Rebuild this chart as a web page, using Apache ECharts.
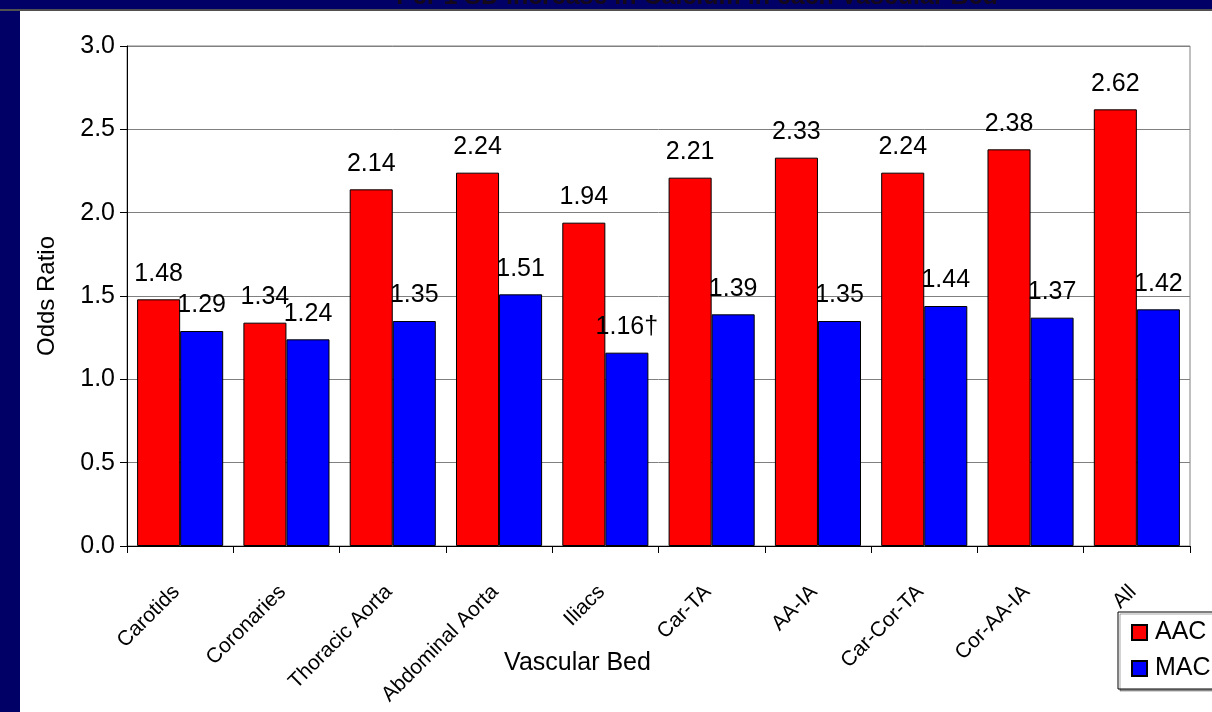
<!DOCTYPE html>
<html>
<head>
<meta charset="utf-8">
<script src="https://cdn.jsdelivr.net/npm/echarts@6/dist/echarts.min.js"></script>
<style>
html,body{margin:0;padding:0;background:#000066;}
#chart{width:1212px;height:712px;}
</style>
</head>
<body>
<div id="chart"></div>
<script>
const titleText = 'Per 1 SD Increase in Calcium in each Vascular Bed';
const categories = ['Carotids','Coronaries','Thoracic Aorta','Abdominal Aorta','Iliacs','Car-TA','AA-IA','Car-Cor-TA','Cor-AA-IA','All'];
const aacValues = [1.48,1.34,2.14,2.24,1.94,2.21,2.33,2.24,2.38,2.62];
const macValues = [1.29,1.24,1.35,1.51,1.16,1.39,1.35,1.44,1.37,1.42];
const macNotes = ['','','','','†','','','','',''];
const seriesNames = ['AAC','MAC'];
const yTicks = [0,0.5,1.0,1.5,2.0,2.5,3.0];

const FONT = '"Liberation Sans", Arial, sans-serif';
const chart = echarts.init(document.getElementById('chart'));

const labelBase = {
  show: true,
  position: 'top',
  distance: 13,
  color: '#000',
  fontFamily: FONT,
  fontSize: 25
};

chart.setOption({
  backgroundColor: '#000066',
  animation: false,
  graphic: [
    {type:'text', z:-20, x:697, y:-15, style:{text: titleText, fill:'#14081a', font:'bold 25px ' + FONT, align:'center', verticalAlign:'top'}},
    {type:'rect', z:-10, shape:{x:20,y:10,width:1192,height:702}, style:{fill:'#ffffff'}},
    {type:'rect', z:-9, shape:{x:0,y:9,width:1212,height:2}, style:{fill:'#505050'}}
  ],
  grid: {left:127, right:22, top:46, bottom:166, show:true, borderColor:'#808080', borderWidth:1, backgroundColor:'transparent'},
  legend: {
    orient:'vertical', left:1118, top:612,
    data: seriesNames,
    itemWidth:15, itemHeight:15, itemGap:11,
    padding:[8,20,8,13],
    borderColor:'#000', borderWidth:1, backgroundColor:'#fff',
    shadowColor:'rgba(0,0,0,0.35)', shadowOffsetX:2, shadowOffsetY:2, shadowBlur:0,
    textStyle:{fontFamily:FONT, fontSize:25, color:'#000', padding:[0,0,0,3]},
    icon:'rect'
  },
  xAxis: {
    type:'category', data: categories,
    name:'Vascular Bed', nameLocation:'middle', nameGap:117, nameMoveOverlap:false,
    nameTextStyle:{fontFamily:FONT, fontSize:25, color:'#000', padding:[0,162,0,0], verticalAlign:'middle'},
    axisLine:{lineStyle:{color:'#000', width:1}},
    axisTick:{show:true, length:7, lineStyle:{color:'#000'}},
    axisLabel:{rotate:45, interval:0, margin:24, align:'right', verticalAlign:'top', padding:[0,16,0,0], fontFamily:FONT, fontSize:21, color:'#000'}
  },
  yAxis: {
    type:'value', min:0, max:3, interval:0.5,
    name:'Odds Ratio', nameLocation:'middle', nameGap:80, nameMoveOverlap:false,
    nameTextStyle:{fontFamily:FONT, fontSize:24, color:'#000', verticalAlign:'middle'},
    axisLine:{show:true, lineStyle:{color:'#000', width:1}},
    axisTick:{show:true, length:7, lineStyle:{color:'#000'}},
    axisLabel:{margin:12, fontFamily:FONT, fontSize:25, color:'#000', formatter: v => yTicks.includes(v) ? v.toFixed(1) : ''},
    splitLine:{show:true, lineStyle:{color:'#808080', width:1}}
  },
  series: [
    {
      name: seriesNames[0], type:'bar', data: aacValues,
      barGap:'0%', barCategoryGap:'19%',
      itemStyle:{color:'#ff0000', borderColor:'#000', borderWidth:1},
      label: Object.assign({}, labelBase, {formatter: p => p.value.toFixed(2)})
    },
    {
      name: seriesNames[1], type:'bar', data: macValues,
      barGap:'0%', barCategoryGap:'19%',
      itemStyle:{color:'#0000ff', borderColor:'#000', borderWidth:1},
      label: Object.assign({}, labelBase, {formatter: p => p.value.toFixed(2) + macNotes[p.dataIndex]})
    }
  ]
});
</script>
</body>
</html>
